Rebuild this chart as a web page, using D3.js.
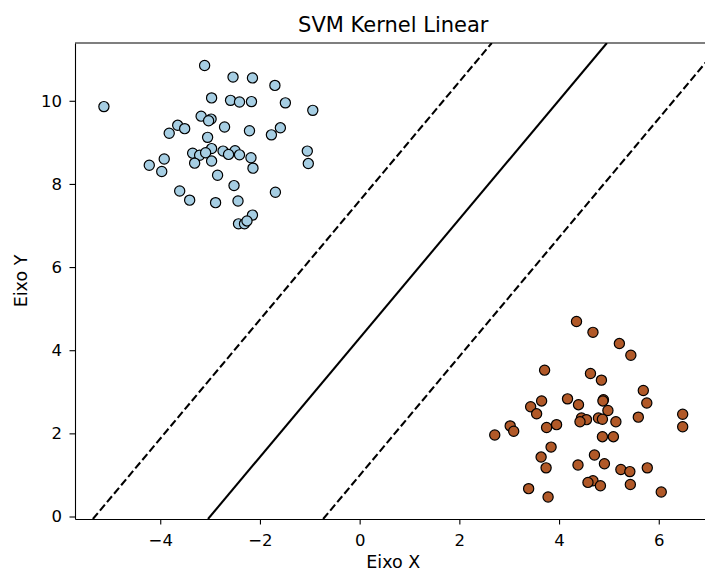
<!DOCTYPE html>
<html>
<head>
<meta charset="utf-8">
<script src="https://cdn.jsdelivr.net/npm/d3@7"></script>
<style>
  body { margin: 0; background: #fff; overflow: hidden; }
  text { font-family: "DejaVu Sans", sans-serif; fill: #000; }
</style>
</head>
<body>
<div id="chart-area"></div>
<script>
// Clase 0 (azul claro)
var blueX = [-3.11, -2.54, -2.15, -1.70, -2.97, -2.59, -2.41, -2.17, -1.49, -0.94,
             -3.18, -2.98, -3.03, -3.65, -3.51, -3.82, -2.71, -2.21, -1.59, -1.77,
             -3.05, -1.05, -1.03, -2.97, -2.74, -2.50, -3.35, -3.21, -3.09, -2.63,
             -2.41, -2.18, -3.92, -4.22, -3.31, -2.97, -2.14, -3.97, -2.85, -2.52,
             -3.61, -1.69, -3.41, -2.89, -2.44, -2.15, -2.43, -2.31, -2.26, -5.13];
var blueY = [10.85, 10.57, 10.55, 10.37, 10.07, 10.01, 9.97, 9.98, 9.95, 9.77,
             9.63, 9.56, 9.52, 9.41, 9.33, 9.22, 9.37, 9.28, 9.35, 9.18,
             9.12, 8.79, 8.49, 8.85, 8.79, 8.80, 8.74, 8.69, 8.75, 8.71,
             8.70, 8.63, 8.60, 8.45, 8.50, 8.55, 8.38, 8.30, 8.21, 7.96,
             7.83, 7.80, 7.61, 7.55, 7.59, 7.25, 7.04, 7.04, 7.11, 9.86];

// Clase 1 (marrón)
var brownX = [4.35, 4.68, 5.21, 5.44, 3.71, 4.63, 4.85, 5.69, 5.76, 4.17,
              4.89, 4.88, 3.65, 3.43, 4.39, 4.98, 3.55, 6.48, 6.48, 5.59,
              4.45, 4.55, 4.42, 4.79, 4.87, 5.14, 3.95, 3.75, 3.02, 3.09,
              2.71, 4.87, 5.09, 3.84, 4.71, 3.64, 3.74, 4.91, 4.38, 5.24,
              5.42, 5.77, 4.68, 4.58, 4.83, 5.43, 3.39, 3.78, 6.05];
var brownY = [4.69, 4.43, 4.16, 3.88, 3.52, 3.44, 3.28, 3.03, 2.73, 2.83,
              2.81, 2.78, 2.78, 2.64, 2.69, 2.55, 2.47, 2.46, 2.16, 2.39,
              2.37, 2.33, 2.28, 2.37, 2.34, 2.28, 2.21, 2.14, 2.18, 2.05,
              1.96, 1.92, 1.92, 1.67, 1.48, 1.43, 1.17, 1.27, 1.24, 1.13,
              1.08, 1.17, 0.86, 0.82, 0.74, 0.77, 0.67, 0.47, 0.59];

// Modelo SVM lineal: w1*x + w2*y + b = nivel
var svmCoef = [0.433, -0.3026];
var svmIntercept = 1.299;
var svmLevels = [-1, 0, 1];
var levelDash = ["7.7,3.3", null, "7.7,3.3"];

var xTicks = [-4, -2, 0, 2, 4, 6];
var yTicks = [0, 2, 4, 6, 8, 10];

// El eje derecho queda fuera de la imagen (como en la original recortada)
var margin = { top: 43, right: -6.6, bottom: 53, left: 75 },
    width = 705 - margin.left - margin.right,
    height = 572 - margin.top - margin.bottom;

var svg = d3.select("#chart-area")
    .append("svg")
    .attr("width", 705)
    .attr("height", 572)
    .style("display", "block")
    .append("g")
    .attr("transform", "translate(" + margin.left + "," + margin.top + ")");

var xScale = d3.scaleLinear().domain([-5.71, 7.06]).range([0, width]);
var yScale = d3.scaleLinear().domain([-0.06, 11.39]).range([height, 0]);

svg.append("defs").append("clipPath")
    .attr("id", "clip")
    .append("rect")
    .attr("width", width)
    .attr("height", height);

var plot = svg.append("g").attr("clip-path", "url(#clip)");

// Líneas de decisión y márgenes
var y0 = yScale.domain()[0], y1 = yScale.domain()[1];
svmLevels.forEach(function(lv, i) {
    var xAt = function(y) { return (lv - svmIntercept - svmCoef[1] * y) / svmCoef[0]; };
    plot.append("line")
        .attr("x1", xScale(xAt(y0)))
        .attr("y1", yScale(y0))
        .attr("x2", xScale(xAt(y1)))
        .attr("y2", yScale(y1))
        .attr("stroke", "#000")
        .attr("stroke-width", 2.08)
        .attr("stroke-dasharray", levelDash[i]);
});

var points = blueX.map(function(x, i) { return { x: x, y: blueY[i], c: "#a6cee3" }; })
    .concat(brownX.map(function(x, i) { return { x: x, y: brownY[i], c: "#b15928" }; }));

plot.selectAll("circle")
    .data(points)
    .enter().append("circle")
    .attr("cx", function(d) { return xScale(d.x); })
    .attr("cy", function(d) { return yScale(d.y); })
    .attr("r", 5.1)
    .attr("fill", function(d) { return d.c; })
    .attr("stroke", "#000")
    .attr("stroke-width", 1.2);

// Ejes
var xAxis = svg.append("g")
    .attr("transform", "translate(0," + height + ")")
    .call(d3.axisBottom(xScale).tickValues(xTicks).tickSize(5.5).tickSizeOuter(0).tickPadding(9.5)
        .tickFormat(function(d) { return d < 0 ? "\u2212" + Math.abs(d) : d; }));

var yAxis = svg.append("g")
    .call(d3.axisLeft(yScale).tickValues(yTicks).tickSize(5.5).tickSizeOuter(0).tickPadding(7.5));

[xAxis, yAxis].forEach(function(ax) {
    ax.selectAll("path, line").attr("stroke", "#000").attr("stroke-width", 1.1);
    ax.selectAll("text").style("font-size", "16.5px").attr("fill", "#000");
});

// Borde superior y derecho
svg.append("line").attr("x1", 0).attr("x2", width).attr("y1", 0).attr("y2", 0)
    .attr("stroke", "#000").attr("stroke-width", 1.1);
svg.append("line").attr("x1", width).attr("x2", width).attr("y1", 0).attr("y2", height)
    .attr("stroke", "#000").attr("stroke-width", 1.1);

svg.append("text")
    .attr("x", width / 2)
    .attr("y", height + 48.5)
    .attr("text-anchor", "middle")
    .style("font-size", "17.5px")
    .text("Eixo X");

svg.append("text")
    .attr("transform", "rotate(-90)")
    .attr("x", -height / 2)
    .attr("y", -48.5)
    .attr("text-anchor", "middle")
    .style("font-size", "17.5px")
    .text("Eixo Y");

svg.append("text")
    .attr("x", width / 2)
    .attr("y", -10.7)
    .attr("text-anchor", "middle")
    .style("font-size", "21px")
    .text("SVM Kernel Linear");
</script>
</body>
</html>
